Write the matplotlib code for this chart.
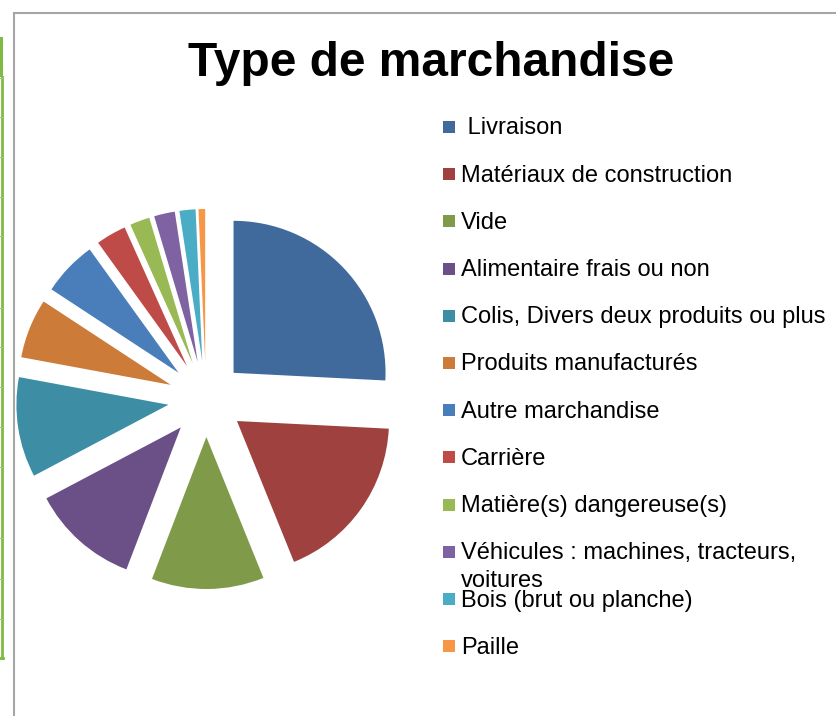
import matplotlib
matplotlib.use("Agg")
import matplotlib.pyplot as plt
from matplotlib.patches import Rectangle
from matplotlib.lines import Line2D

# Répartition des trajets par type de marchandise (%)
categories = [" Livraison", "Matériaux de construction", "Vide",
              "Alimentaire frais ou non", "Colis, Divers deux produits ou plus",
              "Produits manufacturés", "Autre marchandise", "Carrière",
              "Matière(s) dangereuse(s)",
              "Véhicules : machines, tracteurs,\nvoitures",
              "Bois (brut ou planche)", "Paille"]
values = [25.7, 18.0, 11.9, 11.4, 10.6, 6.3, 5.8, 3.2, 2.1, 2.2, 1.7, 0.7]
colors = ["#416A9C", "#9E413F", "#7F9B4A", "#6A5087", "#3D8DA4", "#CC7B38",
          "#4A7EBB", "#BE4B48", "#98B954", "#7E62A1", "#4BACC6", "#F79646"]

W, H = 836, 716
fig = plt.figure(figsize=(W / 100, H / 100), dpi=100)
ax = fig.add_axes([0, 0, 1, 1])

def fy(y):
    # pixel rows are counted from the top
    return H - y

radius = 152
ax.pie(values, colors=colors, center=(206, fy(399)), radius=radius,
       startangle=90, counterclock=False, explode=[38] * len(values),
       wedgeprops=dict(linewidth=0))
ax.set_xlim(0, W)
ax.set_ylim(0, H)
ax.set_aspect("equal")
ax.axis("off")

# cadre du graphique
ax.add_line(Line2D([14, 14, W], [fy(H), fy(13), fy(13)], color="#A6A6A6",
                   lw=1.5, solid_joinstyle="miter"))

# bord de la feuille (sélection verte)
green = "#7DBB42"
ax.add_patch(Rectangle((0, fy(77)), 3, 40, color=green, lw=0))
ax.add_line(Line2D([2, 2], [fy(77), fy(658)], color=green, lw=2.0))
ax.add_line(Line2D([0, 3], [fy(658), fy(658)], color=green, lw=2.0))
for yr in [78, 117, 157, 197, 236, 308, 347, 387, 427, 467, 538, 579, 619]:
    ax.add_line(Line2D([0, 2], [fy(yr), fy(yr)], color="#A9BC98", lw=0.8))

fig.text(431 / W, 1 - 63 / H, "Type de marchandise", ha="center", va="center",
         fontsize=34.5, fontweight="bold", family="Liberation Sans", color="black")

# légende
line_step = 28
for i, (lab, col) in enumerate(zip(categories, colors)):
    yc = 127 + 47.2 * i
    extra = line_step * lab.count("\n")
    ax.add_patch(Rectangle((443, fy(yc + 6)), 12, 12, color=col, lw=0))
    ax.text(461, fy(yc + 7.5 + extra), lab, ha="left", va="baseline", fontsize=17,
            family="Liberation Sans", color="black", linespacing=1.4)

fig.savefig("out.png", dpi=100)
